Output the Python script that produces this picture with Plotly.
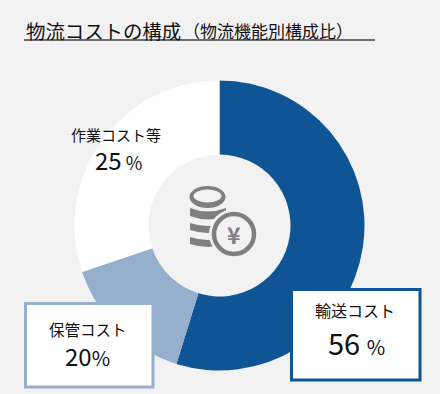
import plotly.graph_objects as go

W, H = 440, 394
BG = "#F2F2F2"
BLUE = "#0F5595"
PALE = "#95AFCC"
WHITE = "#FFFFFF"
GRAY = "#7F7F7F"
FONT = "Noto Sans CJK JP"

categories = ["輸送コスト", "保管コスト", "作業コスト等"]
arc_shares = [54.8, 15.0, 30.2]
printed_values = ["56", "20", "25"]
title_main = "物流コストの構成"
title_sub = "（物流機能別構成比）"


def px(x):
    return x / W


def py(y):
    return 1 - y / H


def box(x0, y0, x1, y1, line, fill, width):
    return dict(type="rect", xref="paper", yref="paper", x0=px(x0), x1=px(x1), y0=py(y1), y1=py(y0),
                line=dict(color=line, width=width), fillcolor=fill, layer="above")


def oval(cx, cy, rx, ry, line, fill, width=0):
    return dict(type="circle", xref="paper", yref="paper", x0=px(cx - rx), x1=px(cx + rx),
                y0=py(cy + ry), y1=py(cy - ry), line=dict(color=line, width=width), fillcolor=fill, layer="above")


def band(x0, x1, y0, y1, sag):
    mid = (x0 + x1) / 2
    d = (f"M{px(x0)},{py(y0)} Q{px(mid)},{py(y0 + sag)} {px(x1)},{py(y0)} "
         f"L{px(x1)},{py(y1)} Q{px(mid)},{py(y1 + sag)} {px(x0)},{py(y1)} Z")
    return dict(type="path", xref="paper", yref="paper", path=d, fillcolor=GRAY,
                line=dict(width=0), layer="above")


def label(x, y, text, size, color="#111111"):
    return dict(xref="paper", yref="paper", x=px(x), y=py(y), text=text, showarrow=False,
                xanchor="center", yanchor="middle", font=dict(family=FONT, size=size, color=color))


fig = go.Figure(go.Pie(
    labels=categories, values=arc_shares, sort=False, direction="clockwise", rotation=0,
    hole=71 / 145, textinfo="none", showlegend=False,
    marker=dict(colors=[BLUE, PALE, WHITE], line=dict(width=0)),
    domain=dict(x=[px(74.5), px(364.5)], y=[py(370.5), py(80.5)]),
))

shapes = [
    dict(type="line", xref="paper", yref="paper", x0=px(24), x1=px(375), y0=py(40), y1=py(40),
         line=dict(color="#404040", width=1.5), layer="above"),
    box(25.5, 303.5, 153, 387, PALE, WHITE, 3),
    box(291.5, 289.5, 420, 380, BLUE, WHITE, 3),
    # coin stack icon
    oval(207.5, 197, 18, 11, GRAY, GRAY),
    oval(207.5, 196, 14, 6.5, BG, BG),
    band(190, 226, 208, 216, 7),
    band(190, 226, 223, 230, 6),
    band(190, 226, 237, 244, 6),
    oval(234, 234, 25, 25, BG, BG),
    oval(234, 234, 20, 20, GRAY, BG, 4.5),
]

annotations = [
    dict(xref="paper", yref="paper", x=px(24), y=py(30), text=title_main, showarrow=False,
         xanchor="left", yanchor="middle", font=dict(family=FONT, size=19.4, color="#111111")),
    dict(xref="paper", yref="paper", x=px(181), y=py(31), text=title_sub, showarrow=False,
         xanchor="left", yanchor="middle", font=dict(family=FONT, size=17, color="#111111")),
    label(116, 134, categories[2], 15),
    label(118, 159, f'{printed_values[2]}<span style="font-size:18px"> %</span>', 24),
    label(88, 329, categories[1], 15.5),
    label(87, 355, f'{printed_values[1]}<span style="font-size:20px">%</span>', 24),
    label(355, 310, categories[0], 16),
    label(356, 342, f'{printed_values[0]} <span style="font-size:20px">%</span>', 29),
    label(234, 234, "<b>¥</b>", 23, GRAY),
]

fig.update_layout(
    width=W, height=H, margin=dict(l=0, r=0, t=0, b=0), autosize=False,
    paper_bgcolor=BG, plot_bgcolor=BG, shapes=shapes, annotations=annotations,
)
fig.write_html("out.html", config={"displayModeBar": False}, post_script="document.body.style.margin='0';")
